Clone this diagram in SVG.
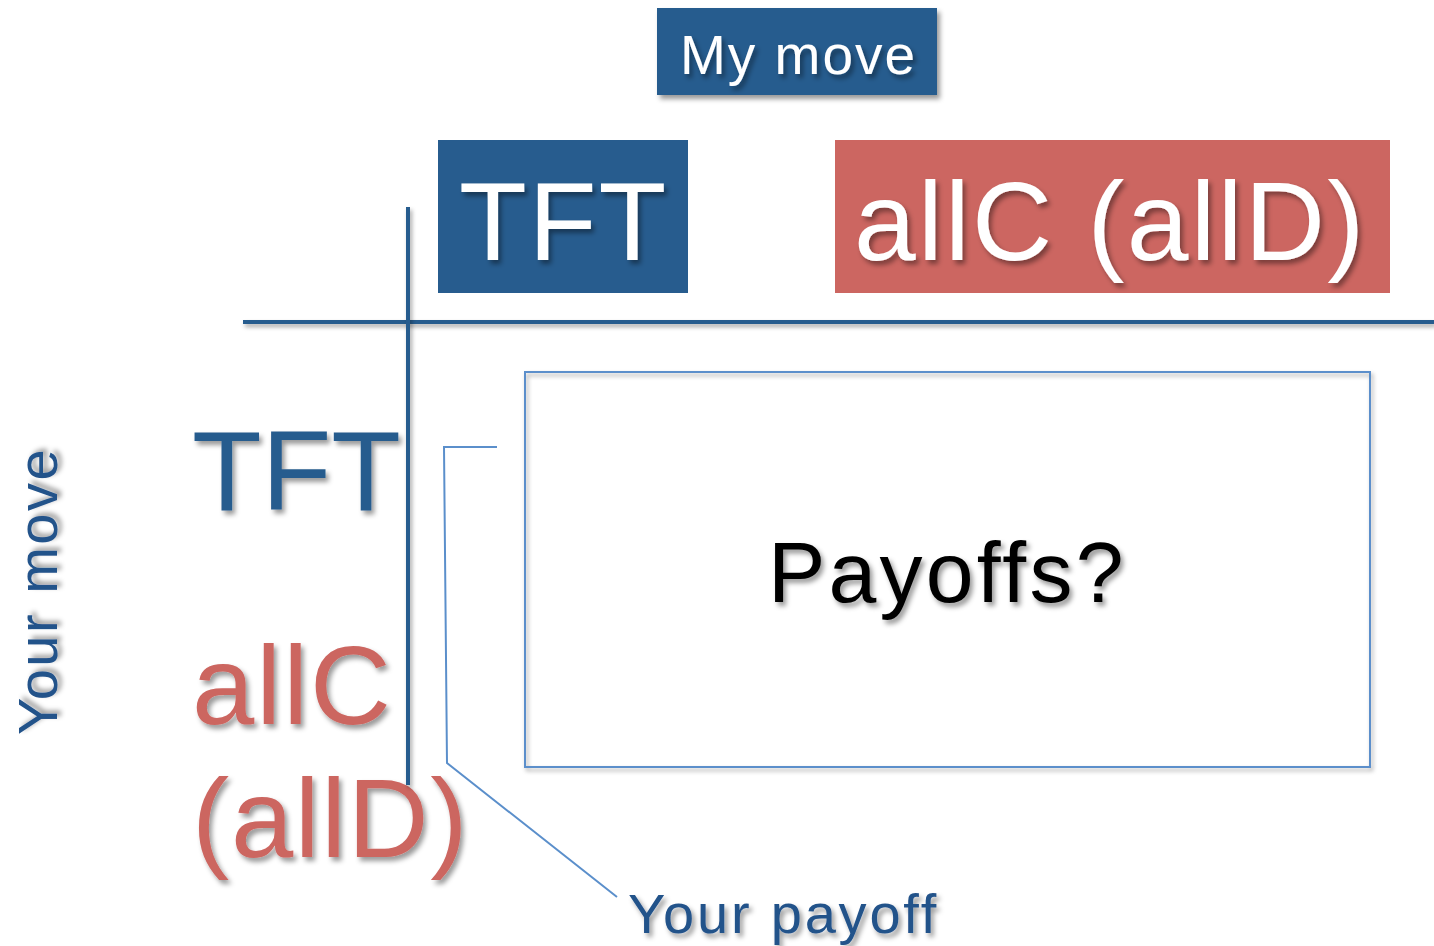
<svg xmlns="http://www.w3.org/2000/svg" width="1434" height="946" viewBox="0 0 1434 946">
  <defs>
    <filter id="shadow" x="-10%" y="-10%" width="130%" height="140%">
      <feDropShadow dx="3" dy="4" stdDeviation="2.5" flood-color="#000" flood-opacity="0.4"/>
    </filter>
    <filter id="lineShadow" filterUnits="userSpaceOnUse" x="0" y="0" width="1434" height="946">
      <feDropShadow dx="2" dy="3" stdDeviation="2" flood-color="#000" flood-opacity="0.35"/>
    </filter>
  </defs>
  <style>
    text { font-family: "Liberation Sans", Arial, sans-serif; }
    .blueBox { fill: #275C8E; }
    .redBox { fill: #CC6661; }
    .white { fill: #FFFFFF; filter: url(#shadow); }
    .blue { fill: #275C8E; filter: url(#shadow); }
    .dark { fill: #24528A; filter: url(#shadow); }
    .red { fill: #CC6661; filter: url(#shadow); }
    .axis { stroke: #275C8E; stroke-width: 4; fill: none; }
    .thin { stroke: #5B8FCB; stroke-width: 2; fill: none; }
  </style>

  <!-- column header -->
  <g id="my-move">
    <rect class="blueBox" x="657" y="8" width="280" height="87" filter="url(#shadow)"/>
    <text class="white" x="680" y="74" font-size="55" letter-spacing="2">My move</text>
  </g>

  <g id="col-tft">
    <rect class="blueBox" x="438" y="140" width="250" height="153"/>
    <text class="white" x="459" y="260" font-size="111" letter-spacing="2">TFT</text>
  </g>

  <g id="col-allc">
    <rect class="redBox" x="835" y="140" width="555" height="153"/>
    <text class="white" x="854" y="260" font-size="111" letter-spacing="2.3">allC (allD)</text>
  </g>

  <!-- row labels -->
  <g id="row-axis-label">
    <text class="dark" transform="translate(57,735) rotate(-90)" font-size="56" letter-spacing="2.5">Your move</text>
  </g>

  <g id="row-tft">
    <text class="blue" x="192" y="510" font-size="114" letter-spacing="0">TFT</text>
  </g>

  <g id="row-allc">
    <text class="red" x="192" y="724" font-size="112" letter-spacing="2">allC</text>
    <text class="red" x="192" y="857" font-size="112" letter-spacing="1.6">(allD)</text>
  </g>

  <!-- payoff cell -->
  <g id="payoffs">
    <rect class="thin" x="525" y="372" width="845" height="395" filter="url(#lineShadow)"/>
    <text x="768" y="602" font-size="86" letter-spacing="3.2" style="fill:#000; filter:url(#shadow)">Payoffs?</text>
  </g>

  <g id="your-payoff">
    <text class="dark" x="628" y="933" font-size="56" letter-spacing="2.8">Your payoff</text>
  </g>

  <!-- connectors: grid axes and callout -->
  <g id="connectors">
    <line class="axis" x1="243" y1="322" x2="1434" y2="322" filter="url(#lineShadow)"/>
    <line class="axis" x1="408" y1="207" x2="408" y2="785" filter="url(#lineShadow)"/>
    <polyline class="thin" points="497,447 444,447 447,763 617,897"/>
  </g>
</svg>
